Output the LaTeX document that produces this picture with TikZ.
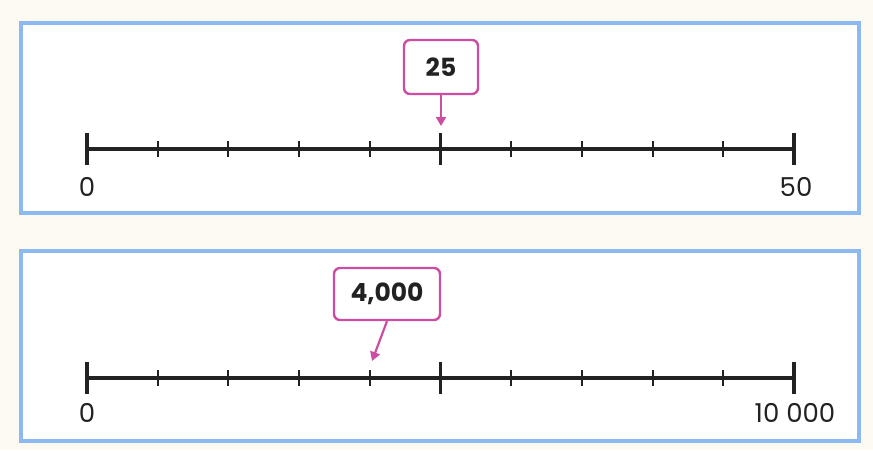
\documentclass[tikz,border=0pt]{standalone}
\usepackage{fontspec}
\setmainfont{Poppins}
\usetikzlibrary{arrows.meta}
\definecolor{bg}{HTML}{FCFAF1}
\definecolor{frameblue}{HTML}{8DB9F2}
\definecolor{mag}{HTML}{CC4DA1}
\definecolor{ink}{HTML}{222222}
\tikzset{
  panel/.style={draw=frameblue, line width=4pt, fill=white},
  axis/.style={draw=ink, line width=3.2pt},
  bigtick/.style={draw=ink, line width=3.8pt},
  smalltick/.style={draw=ink, line width=2pt},
  lbl/.style={text=ink, font=\fontsize{26}{29}\selectfont, inner sep=0pt},
  valbox/.style={draw=mag, line width=2.4pt, rounded corners=6pt, fill=white, text=ink, font=\fontsize{25}{28}\selectfont\bfseries, inner sep=0pt},
  pointer/.style={draw=mag, line width=2.2pt, -{Triangle[length=9pt,width=10pt]}}
}
\begin{document}
\begin{tikzpicture}[x=1pt,y=-1pt]
\fill[bg] (0,0) rectangle (873,450);
\useasboundingbox (0,0) rectangle (873,450);
% panels
\draw[panel] (21,23) rectangle (859,213);
\draw[panel] (21,251) rectangle (859,441);
% number lines
\foreach \yy/\nm in {149/a,378/b}{
  \coordinate (\nm L) at (87,\yy);
  \coordinate (\nm R) at (794,\yy);
  \draw[axis] (\nm L) -- (\nm R);
  \foreach \i in {1,2,3,4,6,7,8,9}{
    \draw[smalltick] (87+70.7*\i,\yy-8) -- (87+70.7*\i,\yy+8);
  }
  \foreach \xx in {87,440.5,794}{
    \draw[bigtick] (\xx,\yy-16) -- (\xx,\yy+16);
  }
}
% labels
\node[lbl] (t0) at (87,187) {0};
\node[lbl] (t50) at (796,187) {50};
\node[lbl] (b0) at (87,413) {0};
\node[lbl] (b10) at (795,413) {10 000};
% boxes
\node[valbox, minimum width=74pt, minimum height=54pt] (box25) at (441,67) {25};
\coordinate (tgt25) at (441,126);
\draw[pointer] (box25.south) -- (tgt25);
\node[valbox, minimum width=106pt, minimum height=52pt] (box4) at (387,294) {4,000};
\coordinate (tgt4) at (372,361);
\draw[pointer] (box4.south) -- (tgt4);
\end{tikzpicture}
\end{document}
